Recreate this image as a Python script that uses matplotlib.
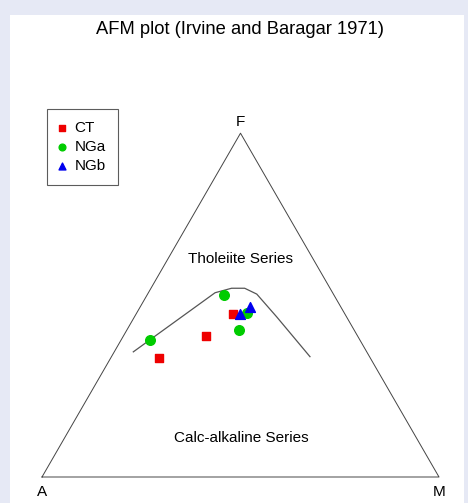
import numpy as np
import matplotlib.pyplot as plt
from matplotlib.patches import Rectangle

plt.rcParams['font.family'] = ['Liberation Sans', 'DejaVu Sans']

# AFM data (A, F, M in percent)
ct_A = [28.2, 38.1, 53.3]
ct_F = [47.5, 41.0, 34.5]
ct_M = [24.3, 20.9, 12.2]

nga_A = [27.7, 24.6, 29.0, 52.9]
nga_F = [52.8, 47.6, 42.9, 39.8]
nga_M = [19.5, 27.8, 28.1, 7.3]

ngb_A = [26.5, 22.9]
ngb_F = [47.4, 49.5]
ngb_M = [26.1, 27.6]

# Irvine & Baragar (1971) dividing line
line_A = [58.8, 29.6, 24.8, 21.5, 19.3, 17.6, 15.0]
line_F = [36.4, 53.6, 54.9, 54.9, 53.2, 46.6, 35.0]
line_M = [4.8, 16.8, 20.3, 23.6, 27.5, 35.8, 50.0]


def tern(A, F, M):
    A, F, M = np.asarray(A, float), np.asarray(F, float), np.asarray(M, float)
    s = A + F + M
    f, m = F / s, M / s
    return m + f / 2, f * np.sqrt(3) / 2


W, H = 468, 503
fig = plt.figure(figsize=(W / 100, H / 100), dpi=100)
fig.patch.set_facecolor('#e6e9f5')

ax = fig.add_axes([0, 0, 1, 1])
ax.set_facecolor('none')
scale = 397.0
ax.set_xlim(-42 / scale, (W - 42) / scale)
ax.set_ylim(-26 / scale, (H - 26) / scale)
ax.axis('off')

# white plotting panel
ax.add_patch(Rectangle((10 / W, 0), 454 / W, (H - 15) / H,
                       transform=fig.transFigure, facecolor='white',
                       edgecolor='none', zorder=0, clip_on=False))

# triangle
tx, ty = tern([100, 0, 0, 100], [0, 100, 0, 0], [0, 0, 100, 0])
ax.plot(tx, ty, color='#444444', lw=0.7, zorder=1)

lx, ly = tern(line_A, line_F, line_M)
ax.plot(lx, ly, color='#555555', lw=0.9, zorder=1)

x, y = tern(ct_A, ct_F, ct_M)
ax.scatter(x, y, marker='s', s=40, color='#ee0000', label='CT', zorder=3)
x, y = tern(nga_A, nga_F, nga_M)
ax.scatter(x, y, marker='o', s=48, color='#00cc00', label='NGa', zorder=3)
x, y = tern(ngb_A, ngb_F, ngb_M)
ax.scatter(x, y, marker='^', s=50, color='#0000ee', label='NGb', zorder=3)

# vertex labels
ax.annotate('A', (0, 0), xytext=(0, -11), textcoords='offset points',
            ha='center', va='center', fontsize=11)
ax.annotate('M', (1, 0), xytext=(0, -11), textcoords='offset points',
            ha='center', va='center', fontsize=11)
ax.annotate('F', (0.5, np.sqrt(3) / 2), xytext=(0, 8), textcoords='offset points',
            ha='center', va='center', fontsize=11)

ax.text((240 - 42) / scale, (477 - 259) / scale, 'Tholeiite Series',
        ha='center', va='center', fontsize=11)
ax.text((241 - 42) / scale, (477 - 438) / scale, 'Calc-alkaline Series',
        ha='center', va='center', fontsize=11)

ax.text(240 / W, 1 - 30 / H, 'AFM plot (Irvine and Baragar 1971)',
        transform=fig.transFigure, ha='center', va='center', fontsize=13.2)

leg = ax.legend(loc='upper left', bbox_to_anchor=(47 / W, 1 - 109 / H),
                bbox_transform=fig.transFigure, frameon=True, fancybox=False,
                edgecolor='#333333', fontsize=11, handletextpad=0.7,
                handlelength=0.3, borderpad=0.8, labelspacing=0.32,
                borderaxespad=0, markerscale=0.7)
leg.get_frame().set_linewidth(0.8)

fig.savefig('out.png', dpi=100)
